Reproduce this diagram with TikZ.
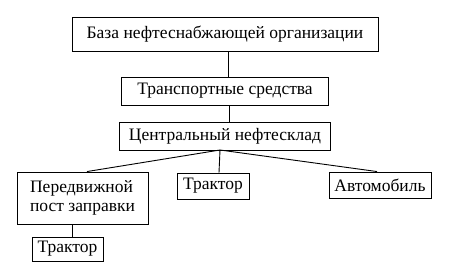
\documentclass[tikz,border=0pt]{standalone}
\usepackage{fontspec}
\setmainfont{Liberation Serif}
\usetikzlibrary{positioning}

\begin{document}
\begin{tikzpicture}[
  x=1pt,y=-1pt,
  box/.style={draw,line width=0.9pt,inner sep=0pt,minimum height=26pt,font=\fontsize{17.5}{19.5}\selectfont},
  link/.style={line width=0.9pt}
]
\useasboundingbox (0,0) rectangle (462,273);
\node[box,minimum width=306pt,minimum height=34pt] (base) at (225,34) {База нефтеснабжающей организации};
\node[box,minimum width=207pt,minimum height=28pt] (transport) at (225,91) {Транспортные средства};
\node[box,minimum width=211pt,minimum height=28pt] (depot) at (225,136) {Центральный нефтесклад};
\node[box,minimum width=131pt,minimum height=52pt,align=left] (post) at (82.5,198) {Передвижной\\пост заправки};
\node[box,minimum width=72pt] (tractor) at (213,186) {Трактор};
\node[box,minimum width=102pt] (auto) at (380,185) {Автомобиль};
\node[box,minimum width=71pt,minimum height=24pt] (tractor2) at (67.5,249) {Трактор};
\coordinate (fork) at (220,150);
\draw[link] (base.south -| 228,0) -- (transport.north -| 228,0);
\draw[link] (transport.south -| 229,0) -- (depot.north -| 229,0);
\draw[link] (fork) -- (post.north -| 87,0);
\draw[link] (fork) -- (tractor.north -| 219,0);
\draw[link] (fork) -- (auto.north -| 377,0);
\draw[link] (post.south -| 72,0) -- (tractor2.north -| 72,0);
\end{tikzpicture}
\end{document}
